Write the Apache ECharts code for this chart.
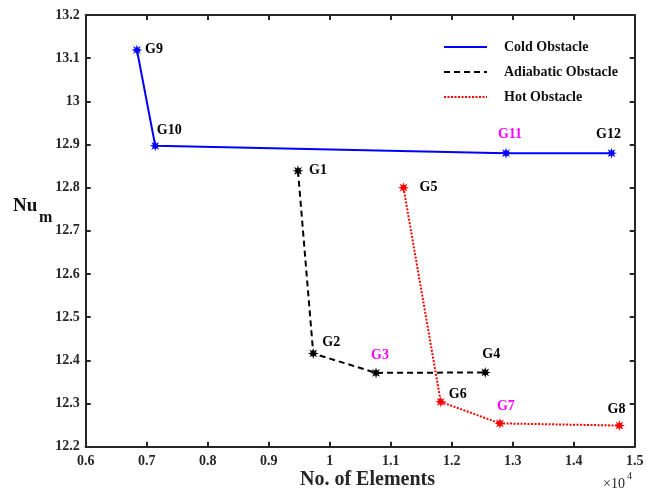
<!DOCTYPE html>
<html>
<head>
<meta charset="utf-8">
<script src="https://cdn.jsdelivr.net/npm/echarts@6/dist/echarts.min.js"></script>
<style>
html,body{margin:0;padding:0;background:#fff;}
#chart{width:653px;height:496px;}
</style>
</head>
<body>
<div id="chart"></div>
<script>
// ---- data (No. of Elements in units of 1e4, Nu_m) ----
var coldNames = ['G9', 'G10', 'G11', 'G12'];
var coldX = [0.684, 0.714, 1.289, 1.462];
var coldY = [13.119, 12.897, 12.880, 12.880];

var adiaNames = ['G1', 'G2', 'G3', 'G4'];
var adiaX = [0.948, 0.973, 1.076, 1.255];
var adiaY = [12.839, 12.416, 12.371, 12.372];

var hotNames = ['G5', 'G6', 'G7', 'G8'];
var hotX = [1.121, 1.182, 1.279, 1.475];
var hotY = [12.800, 12.304, 12.254, 12.249];

var highlighted = ['G3', 'G7', 'G11'];

// ---- label placement styles (offsets in px from the marker) ----
var labelOffsets = {
  G9: [17, -1], G10: [14, -15], G11: [4, -19], G12: [-3, -19],
  G1: [20, 0], G2: [18, -11], G3: [4, -17], G4: [6, -18],
  G5: [25, 0], G6: [17, -7], G7: [6, -17], G8: [-3, -16]
};

// asterisk-like 8-spoke star
function starPath() {
  var pts = [];
  for (var i = 0; i < 16; i++) {
    var a = i * Math.PI / 8 - Math.PI / 2;
    var r = (i % 2 === 0) ? 10 : 4.6;
    pts.push((10 + r * Math.cos(a)).toFixed(3) + ' ' + (10 + r * Math.sin(a)).toFixed(3));
  }
  return 'path://M' + pts.join(' L') + ' Z';
}
var STAR = starPath();
var FONT = '"Liberation Serif", "Times New Roman", serif';

function buildData(names, xs, ys) {
  return names.map(function (n, i) {
    var hl = highlighted.indexOf(n) >= 0;
    return {
      name: n,
      value: [xs[i], ys[i]],
      label: {
        show: true,
        formatter: n,
        position: 'inside',
        offset: labelOffsets[n],
        color: hl ? '#FF00FF' : '#000000',
        fontFamily: FONT,
        fontWeight: 'bold',
        fontSize: 14
      }
    };
  });
}

function makeSeries(name, names, xs, ys, color, lineType) {
  return {
    name: name,
    type: 'line',
    data: buildData(names, xs, ys),
    symbol: STAR,
    symbolSize: 11,
    itemStyle: { color: color },
    lineStyle: { color: color, width: 2, type: lineType },
    emphasis: { disabled: true },
    animation: false,
    z: 3
  };
}

var tickLabelStyle = {
  fontFamily: FONT, fontWeight: 'bold', fontSize: 14, color: '#262626'
};
var axisLineStyle = { lineStyle: { color: '#262626', width: 2 } };
var tickStyle = { inside: true, length: 5, lineStyle: { color: '#262626', width: 2 } };

var chart = echarts.init(document.getElementById('chart'), null, { renderer: 'canvas' });
chart.setOption({
  backgroundColor: '#ffffff',
  animation: false,
  grid: { left: 85.7, right: 18.3, top: 15, bottom: 49.3, containLabel: false },
  xAxis: [
    {
      type: 'value', position: 'bottom', min: 0.6, max: 1.5, interval: 0.1,
      axisLine: axisLineStyle, axisTick: tickStyle,
      axisLabel: Object.assign({ margin: 8 }, tickLabelStyle),
      splitLine: { show: false }
    },
    {
      type: 'value', position: 'top', min: 0.6, max: 1.5, interval: 0.1,
      axisLine: axisLineStyle, axisTick: tickStyle,
      axisLabel: { show: false }, splitLine: { show: false }
    }
  ],
  yAxis: [
    {
      type: 'value', position: 'left', min: 12.2, max: 13.2, interval: 0.1,
      axisLine: axisLineStyle, axisTick: tickStyle,
      axisLabel: Object.assign({ margin: 6 }, tickLabelStyle),
      splitLine: { show: false }
    },
    {
      type: 'value', position: 'right', min: 12.2, max: 13.2, interval: 0.1,
      axisLine: axisLineStyle, axisTick: tickStyle,
      axisLabel: { show: false }, splitLine: { show: false }
    }
  ],
  legend: {
    orient: 'vertical',
    left: 443,
    top: 40,
    padding: 0,
    itemWidth: 43,
    itemHeight: 14,
    itemGap: 11,
    itemStyle: { opacity: 0 },
    selectedMode: false,
    textStyle: {
      fontFamily: FONT, fontWeight: 'bold', fontSize: 14, color: '#111',
      padding: [0, 0, 0, 12]
    },
    data: ['Cold Obstacle', 'Adiabatic Obstacle', 'Hot Obstacle']
  },
  graphic: [
    {
      type: 'text', left: 300, top: 470,
      style: { text: 'No. of Elements', font: 'bold 20px ' + FONT, fill: '#262626' }
    },
    {
      type: 'text', x: 13, y: 206,
      style: { text: 'Nu', font: 'bold 19px ' + FONT, fill: '#111', verticalAlign: 'middle' }
    },
    {
      type: 'text', x: 39, y: 217.5,
      style: { text: 'm', font: 'bold 16px ' + FONT, fill: '#111', verticalAlign: 'middle' }
    },
    {
      type: 'text', x: 603, y: 484,
      style: { text: '×10', font: '14px ' + FONT, fill: '#262626', verticalAlign: 'middle' }
    },
    {
      type: 'text', x: 627, y: 476,
      style: { text: '4', font: '10px ' + FONT, fill: '#262626', verticalAlign: 'middle' }
    }
  ],
  series: [
    makeSeries('Cold Obstacle', coldNames, coldX, coldY, '#0000FF', 'solid'),
    makeSeries('Adiabatic Obstacle', adiaNames, adiaX, adiaY, '#000000', [6, 4]),
    makeSeries('Hot Obstacle', hotNames, hotX, hotY, '#FF0000', [2, 1.5])
  ]
});
</script>
</body>
</html>
